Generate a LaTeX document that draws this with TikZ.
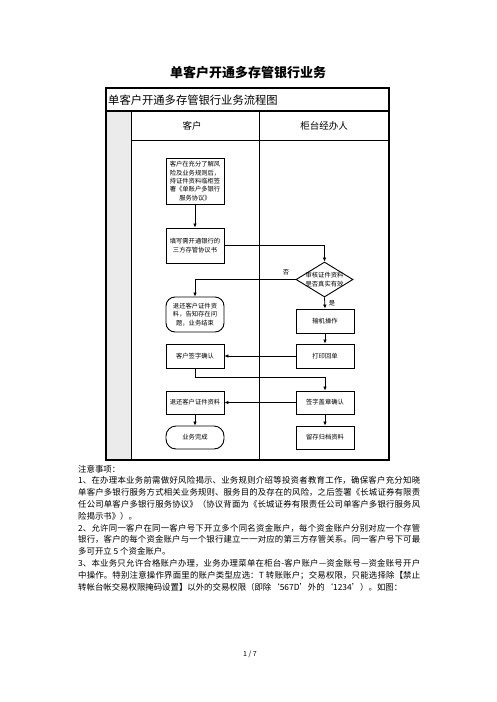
\documentclass[tikz,border=0pt]{standalone}
\usepackage{fontspec}
\setmainfont{Noto Sans CJK SC}
\usetikzlibrary{shapes.geometric,arrows.meta}
\XeTeXlinebreaklocale "zh"
\XeTeXlinebreakskip=0pt plus 1pt
\begin{document}
\begin{tikzpicture}[x=1pt,y=-1pt,
  flow/.style={draw, line width=0.9pt, minimum width=58, inner sep=0pt, align=center, font=\fontsize{6.3}{8.4}\selectfont},
  lbl/.style={inner sep=0pt, font=\fontsize{6.3}{8.4}\selectfont},
  conn/.style={line width=0.8pt, -{Latex[length=4pt,width=3.6pt]}},
  plain/.style={line width=0.8pt},
  note/.style={anchor=west, inner sep=0pt, text width=342pt, align=justify, font=\fontsize{8.4}{10}\selectfont},
  notel/.style={anchor=west, inner sep=0pt, font=\fontsize{8.4}{10}\selectfont}
]
\useasboundingbox (0,0) rectangle (496,702);
\fill[white] (0,0) rectangle (496,702);

% page title
\node[inner sep=0pt, font=\fontsize{13}{15}\selectfont\bfseries] (title) at (248,73) {单客户开通多存管银行业务};

% table
\fill[gray!16] (106,111) rectangle (131,460);
\draw[line width=1.1pt] (106,88) rectangle (389,460);
\draw[line width=1.8pt] (106,111) -- (389,111);
\draw[line width=1pt] (131,111) -- (131,460);
\draw[line width=0.9pt] (259,111) -- (259,460);
\draw[line width=0.9pt] (131,140) -- (389,140);
\node[anchor=west, inner sep=0pt, font=\fontsize{11.3}{13}\selectfont] (ttl) at (108,100) {单客户开通多存管银行业务流程图};
\node[inner sep=0pt, font=\fontsize{9.5}{11}\selectfont] (lane1) at (192,126) {客户};
\node[inner sep=0pt, font=\fontsize{9.5}{11}\selectfont] (lane2) at (324,126) {柜台经办人};

% flow nodes
\node[flow, minimum height=46] (b1) at (195,181) {客户在充分了解风\\险及业务规则后，\\持证件资料临柜签\\署《单账户多银行\\服务协议》};
\node[flow, minimum height=35] (b2) at (195,245.5) {填写需开通银行的\\三方存管协议书};
\node[draw, line width=0.9pt, diamond, minimum width=57, minimum height=35, inner sep=0pt] (dia) at (324.5,279.5) {};
\node[lbl, align=center] (diat) at (dia) {审核证件资料\\是否真实有效};
\node[flow, minimum height=35, rounded corners=9pt] (b3) at (195,314.5) {退还客户证件资\\料，告知存在问\\题，业务结束};
\node[flow, minimum height=24] (b4) at (325,321) {输机操作};
\node[flow, minimum height=24] (b5) at (325,356) {打印回单};
\node[flow, minimum height=24] (b6) at (195,356) {客户签字确认};
\node[flow, minimum height=23] (b7) at (325,402.5) {签字盖章确认};
\node[flow, minimum height=23] (b8) at (195,402.5) {退还客户证件资料};
\node[flow, minimum height=23, rounded corners=10pt] (b9) at (195,437.5) {业务完成};
\node[flow, minimum height=23] (b10) at (325,437.5) {留存归档资料};
\node[lbl] (no) at (286,272) {否};
\node[lbl] (yes) at (332,303) {是};
\coordinate (k1) at (195,377);

% connectors
\draw[conn] (b1.south) -- (b2.north);
\draw[conn] (b2.east) -| (dia.north);
\draw[conn] (dia.west) -| (b3.north);
\draw[conn] (dia.south) -- (b4.north);
\draw[conn] (b4.south) -- (b5.north);
\draw[conn] (b5.west) -- (b6.east);
\draw[plain] (b6.south) -- (k1);
\draw[conn] (k1) -| (b7.north);
\draw[conn] (b7.west) -- (b8.east);
\draw[conn] (b8.south) -- (b9.north);
\draw[conn] (b7.south) -- (b10.north);

% notes
\node[notel] (n0) at (78,469) {注意事项：};
\node[note] (n1) at (78,480.8) {\noindent\parfillskip=0pt 1、在办理本业务前需做好风险揭示、业务规则介绍等投资者教育工作，确保客户充分知晓\par};
\node[note] (n2) at (78,492.6) {\noindent\parfillskip=0pt 单客户多银行服务方式相关业务规则、服务目的及存在的风险，之后签署《长城证券有限责\par};
\node[note] (n3) at (78,504.4) {\noindent\parfillskip=0pt 任公司单客户多银行服务协议》（协议背面为《长城证券有限责任公司单客户多银行服务风\par};
\node[notel] (n4) at (78,516.2) {险揭示书》）。};
\node[note] (n5) at (78,528) {\noindent\parfillskip=0pt 2、允许同一客户在同一客户号下开立多个同名资金账户，每个资金账户分别对应一个存管\par};
\node[note] (n6) at (78,539.8) {\noindent\parfillskip=0pt 银行，客户的每个资金账户与一个银行建立一一对应的第三方存管关系。同一客户号下可最\par};
\node[notel] (n7) at (78,551.6) {多可开立 5 个资金账户。};
\node[note] (n8) at (78,563.4) {\noindent\parfillskip=0pt 3、本业务只允许合格账户办理，业务办理菜单在柜台-客户账户—资金账号—资金账号开户\par};
\node[note] (n9) at (78,575.2) {\noindent\parfillskip=0pt 中操作。特别注意操作界面里的账户类型应选：T 转账账户；交易权限，只能选择除【禁止\par};
\node[notel] (n10) at (78,587) {转帐台帐交易权限掩码设置】以外的交易权限（即除‘567D’外的‘1234’）。如图：};

% page number
\node[inner sep=0pt, font=\fontsize{7}{8}\selectfont] (pg) at (250,654) {1 / 7};
\end{tikzpicture}
\end{document}
